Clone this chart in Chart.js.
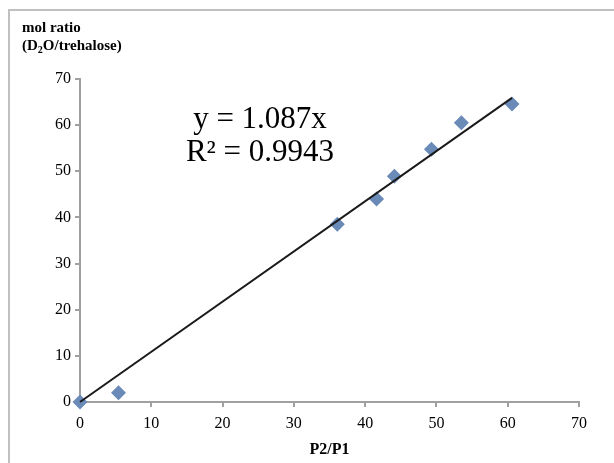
<!DOCTYPE html>
<html lang="en">
<head>
  <meta charset="UTF-8">
  <title>mol ratio vs P2/P1</title>
  <script src="https://cdn.jsdelivr.net/npm/chart.js"></script>
  <style>
    body {
      margin: 0;
      padding: 0;
      background: #fff;
    }
    .wrap {
      position: relative;
      width: 614px;
      height: 463px;
    }
    .frame {
      position: absolute;
      left: 8px;
      top: 9px;
      right: 0;
      bottom: 0;
      border-top: 2px solid #c0c0c0;
      border-left: 2px solid #c0c0c0;
    }
    canvas {
      position: absolute;
      left: 0;
      top: 0;
    }
  </style>
</head>
<body>
  <div class="wrap">
    <div class="frame"></div>
    <canvas id="chart" width="614" height="463"></canvas>
  </div>

  <script>
    // measured points (P2/P1, mol ratio)
    const ratioX = [0, 5.4, 36.1, 41.6, 44.1, 49.3, 53.5, 60.6];
    const molY = [0, 2.0, 38.5, 44.0, 48.9, 54.8, 60.5, 64.6];

    // linear trendline through origin, drawn to the last point
    const trendX = [0, 60.6];
    const trendY = [0, 65.9];

    const tickValues = [0, 10, 20, 30, 40, 50, 60, 70];
    const equation = ['y = 1.087x', 'R\u00B2 = 0.9943'];

    const serif = "'Liberation Serif', 'Times New Roman', serif";
    const axisGray = '#a0a0a0';

    const textPlugin = {
      id: 'texts',
      afterDraw(chart) {
        const ctx = chart.ctx;
        ctx.save();
        ctx.fillStyle = '#000';

        // trendline label
        ctx.font = '31px ' + serif;
        ctx.textAlign = 'center';
        ctx.textBaseline = 'alphabetic';
        ctx.fillText(equation[0], 260, 128);
        ctx.fillText(equation[1], 260, 161);

        // x axis title
        ctx.font = 'bold 16px ' + serif;
        ctx.fillText('P2/P1', (chart.chartArea.left + chart.chartArea.right) / 2, 454);

        // y axis title (two lines, subscript 2)
        ctx.textAlign = 'left';
        ctx.font = 'bold 15px ' + serif;
        ctx.fillText('mol ratio', 22, 32);
        let x = 22;
        const base = 50;
        ctx.fillText('(D', x, base);
        x += ctx.measureText('(D').width;
        ctx.font = 'bold 10px ' + serif;
        ctx.fillText('2', x, base + 3);
        x += ctx.measureText('2').width;
        ctx.font = 'bold 15px ' + serif;
        ctx.fillText('O/trehalose)', x, base);
        ctx.restore();
      }
    };

    const scaleBase = {
      type: 'linear',
      min: 0,
      max: 70,
      border: { display: true, color: axisGray, width: 2 },
      grid: {
        display: true,
        drawOnChartArea: false,
        drawTicks: true,
        tickLength: 5,
        color: axisGray,
        lineWidth: 2
      },
      afterBuildTicks: (axis) => {
        axis.ticks = tickValues.map(v => ({ value: v }));
      }
    };

    new Chart(document.getElementById('chart').getContext('2d'), {
      type: 'scatter',
      data: {
        datasets: [
          {
            type: 'line',
            label: 'trend',
            data: trendX.map((v, i) => ({ x: v, y: trendY[i] })),
            borderColor: '#1a1a1a',
            borderWidth: 2,
            pointRadius: 0,
            fill: false,
            clip: false,
            order: 0
          },
          {
            label: 'data',
            data: ratioX.map((v, i) => ({ x: v, y: molY[i] })),
            pointStyle: 'rectRot',
            pointRadius: 7.5,
            pointHoverRadius: 7.5,
            backgroundColor: '#6a8ab8',
            borderColor: '#6a8ab8',
            borderWidth: 0,
            clip: false,
            order: 1
          }
        ]
      },
      options: {
        responsive: false,
        animation: false,
        layout: { padding: { top: 79, right: 35, left: 0, bottom: 0 } },
        plugins: {
          legend: { display: false },
          tooltip: { enabled: false }
        },
        scales: {
          x: Object.assign({}, scaleBase, {
            position: 'bottom',
            ticks: {
              padding: 7,
              color: '#000',
              font: { family: serif, size: 16 }
            },
            afterFit: (axis) => { axis.height = 61; }
          }),
          y: Object.assign({}, scaleBase, {
            position: 'left',
            ticks: {
              padding: 4,
              color: '#000',
              font: { family: serif, size: 16 }
            },
            afterFit: (axis) => { axis.width = 80; }
          })
        }
      },
      plugins: [textPlugin]
    });
  </script>
</body>
</html>
